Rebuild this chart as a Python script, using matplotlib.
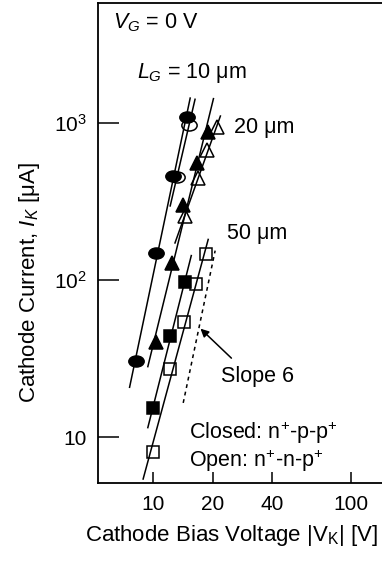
import numpy as np
import matplotlib
matplotlib.use("Agg")
import matplotlib.pyplot as plt
from matplotlib.path import Path

plt.rcParams['font.family'] = ['Liberation Sans', 'DejaVu Sans']
plt.rcParams['mathtext.fontset'] = 'custom'
plt.rcParams['mathtext.rm'] = 'Liberation Sans'
plt.rcParams['mathtext.it'] = 'Liberation Sans:italic'

# data (V, uA)
# L_G = 10 um
x_c10 = [8.2, 10.4, 12.6, 14.9]
y_c10 = [30.5, 149, 459, 1090]
x_o10 = [13.2, 15.2]
y_o10 = [453, 970]
# L_G = 20 um
x_c20 = [10.4, 12.5, 14.2, 16.7, 19.0]
y_c20 = [40, 128, 300, 556, 877]
x_o20 = [14.5, 16.9, 18.8, 21.1]
y_o20 = [256, 446, 673, 943]
# L_G = 50 um
x_c50 = [10.0, 12.2, 14.5]
y_c50 = [15.3, 44, 97]
x_o50 = [10.0, 12.2, 14.3, 16.5, 18.6]
y_o50 = [8.0, 27.1, 54, 94.5, 147]

# x span of each fitted line
span_c10 = (7.6, 15.4)
span_o10 = (12.2, 16.3)
span_c20 = (9.4, 20.2)
span_o20 = (12.9, 21.9)
span_c50 = (9.4, 15.6)
span_o50 = (8.9, 19.0)

# slope-6 guide
slope6_x = (14.2, 20.6)
slope6_y0 = 16.5

xticks = [10, 20, 40, 100]
yticks = [10, 100, 1000]
yticklabels = ['10', r'$10^2$', r'$10^3$']

fig = plt.figure(figsize=(3.82, 5.62), dpi=100)
ax = fig.add_axes([98/382, 1-483/562, 1-98/382, 480/562])
ax.set_xscale('log')
ax.set_yscale('log')
ax.set_xlim(5.26, 144)
ax.set_ylim(5.1, 5800)

# ellipse marker for circles
circ = Path.unit_circle()
ellipse = Path(circ.vertices * np.array([1.0, 0.72]), circ.codes)

series = [
    (x_c10, y_c10, span_c10, ellipse, True, 11),
    (x_o10, y_o10, span_o10, ellipse, False, 11),
    (x_c20, y_c20, span_c20, '^', True, 9.5),
    (x_o20, y_o20, span_o20, '^', False, 9.5),
    (x_c50, y_c50, span_c50, 's', True, 8),
    (x_o50, y_o50, span_o50, 's', False, 8),
]

for xs, ys, span, mk, filled, ms in series:
    p = np.polyfit(np.log10(xs), np.log10(ys), 1)
    xl = np.array(span)
    yl = 10 ** np.polyval(p, np.log10(xl))
    ax.plot(xl, yl, color='black', lw=1.1, zorder=2)
    ax.plot(xs, ys, linestyle='none', marker=mk, markersize=ms,
            markerfacecolor='black' if filled else 'none',
            markeredgecolor='black', markeredgewidth=1.1, zorder=3)

sx = np.array(slope6_x)
sy = slope6_y0 * (sx / sx[0]) ** 6
ax.plot(sx, sy, color='black', lw=1.1, linestyle=(0, (2.5, 2.5)))

# arrow to the slope-6 line
yh = 49
xh = sx[0] * (yh / slope6_y0) ** (1 / 6)
ax.annotate('', xy=(xh * 1.02, yh), xytext=(24.9, 31.8),
            arrowprops=dict(arrowstyle='-|>', color='black', lw=1.1,
                            mutation_scale=12, shrinkA=0, shrinkB=0))

fs = 15.5
ax.text(0.053, 0.958, r'$V_G$ = 0 V', transform=ax.transAxes, fontsize=fs, va='center')
ax.text(0.137, 0.854, r'$L_G$ = 10 μm', transform=ax.transAxes, fontsize=fs, va='center')
ax.text(0.479, 0.740, '20 μm', transform=ax.transAxes, fontsize=fs, va='center')
ax.text(0.454, 0.519, '50 μm', transform=ax.transAxes, fontsize=fs, va='center')
ax.text(0.433, 0.221, 'Slope 6', transform=ax.transAxes, fontsize=fs, va='center')
ax.text(0.320, 0.104, r'Closed: n$^{+}$-p-p$^{+}$', transform=ax.transAxes, fontsize=fs, va='center')
ax.text(0.320, 0.046, r'Open: n$^{+}$-n-p$^{+}$', transform=ax.transAxes, fontsize=fs, va='center')

ax.set_xticks(xticks)
ax.set_xticklabels([str(t) for t in xticks])
ax.set_yticks(yticks)
ax.set_yticklabels(yticklabels)
ax.minorticks_off()
ax.tick_params(axis='x', direction='in', length=8, width=1.1, labelsize=15, pad=9)
ax.tick_params(axis='y', direction='in', length=15, width=1.1, labelsize=15, pad=8)

for s in ['left', 'bottom', 'top']:
    ax.spines[s].set_linewidth(1.3)
ax.spines['right'].set_visible(False)

ax.set_xlabel(r'Cathode Bias Voltage |V$_{\mathrm{K}}$| [V]', fontsize=16)
ax.xaxis.set_label_coords((231 - 98) / 284, -(535 - 483) / 480)
ax.xaxis.label.set_va('center')
ax.set_ylabel(r'Cathode Current, $I_K$ [μA]', fontsize=16)
ax.yaxis.set_label_coords(-(98 - 30) / 284, 1 - (283 - 3) / 480)
ax.yaxis.label.set_va('center')

fig.savefig('out.png', dpi=100)
